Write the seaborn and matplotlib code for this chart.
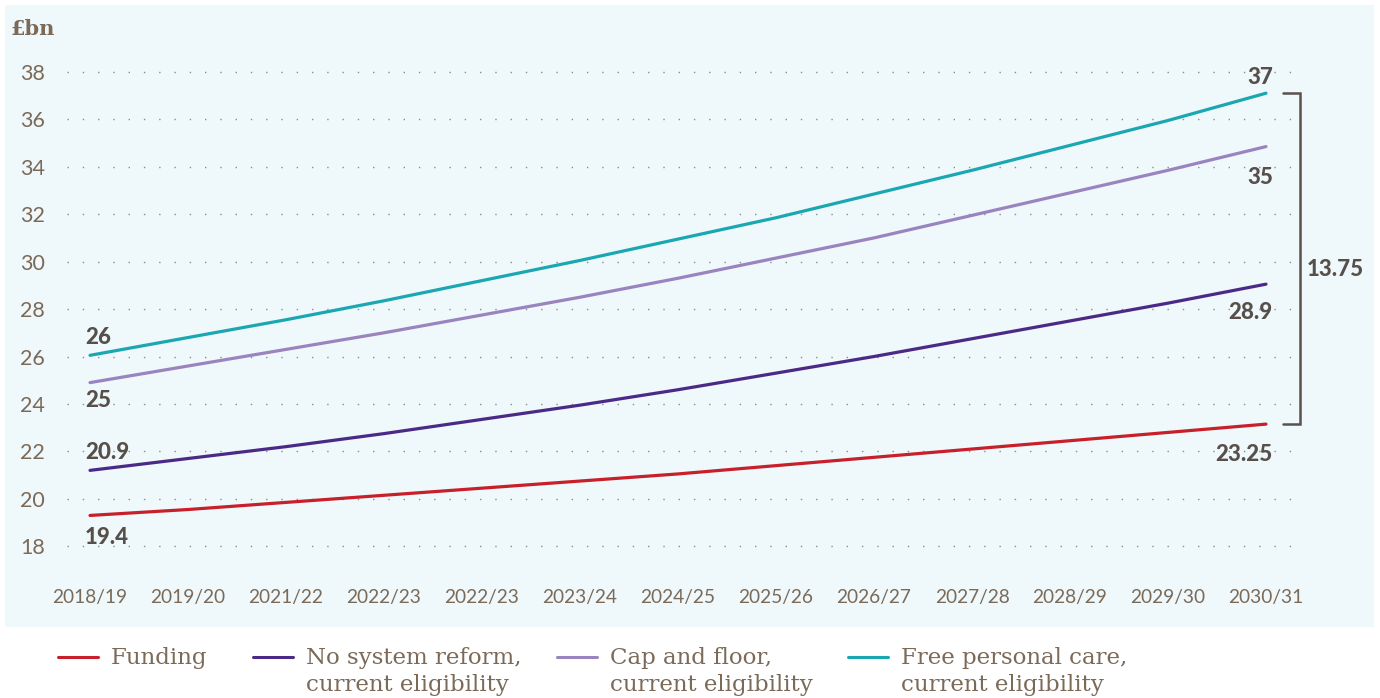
import pandas as pd
import matplotlib.pyplot as plt
import seaborn as sns
from matplotlib.patches import Rectangle

sns.set_theme(style="white")
plt.rcParams["font.family"] = ["Lato", "DejaVu Sans"]

# data
years = ["2018/19", "2019/20", "2021/22", "2022/23", "2022/23", "2023/24", "2024/25",
         "2025/26", "2026/27", "2027/28", "2028/29", "2029/30", "2030/31"]
funding = [19.3, 19.55, 19.85, 20.15, 20.45, 20.75, 21.05, 21.4, 21.75, 22.1, 22.45, 22.8, 23.15]
no_reform = [21.2, 21.7, 22.2, 22.75, 23.35, 23.95, 24.6, 25.3, 26.0, 26.75, 27.5, 28.25, 29.05]
cap_floor = [24.9, 25.6, 26.3, 27.0, 27.75, 28.5, 29.3, 30.15, 31.0, 31.95, 32.9, 33.85, 34.85]
free_care = [26.05, 26.8, 27.55, 28.35, 29.2, 30.05, 30.95, 31.85, 32.85, 33.85, 34.9, 35.95, 37.1]
series_names = ["Funding", "No system reform,\ncurrent eligibility",
                "Cap and floor,\ncurrent eligibility", "Free personal care,\ncurrent eligibility"]
start_labels = ["19.4", "20.9", "25", "26"]
end_labels = ["23.25", "28.9", "35", "37"]
gap_label = "13.75"

colors = ["#c8202a", "#4a2a86", "#9a84c0", "#1aa7b2"]
txt_brown = "#7b6a58"
lab_dark = "#574f4a"

rows = []
for name, vals in zip(series_names, [funding, no_reform, cap_floor, free_care]):
    for i, v in enumerate(vals):
        rows.append({"x": i, "value": v, "series": name})
df = pd.DataFrame(rows)

fig = plt.figure(figsize=(13.8, 6.98), dpi=100)
fig.patches.append(Rectangle((5 / 1380, 71 / 698), 1369 / 1380, 622 / 698,
                             transform=fig.transFigure, facecolor="#eff8fa",
                             edgecolor="none", zorder=-5))
ax = fig.add_axes([67 / 1380, 128 / 698, 1233 / 1380, 510 / 698])
ax.set_facecolor("none")
ax.set_zorder(2)

sns.lineplot(data=df, x="x", y="value", hue="series", palette=colors,
             linewidth=2.3, ax=ax, legend=False, zorder=3)

ax.set_xlim(-0.235, 12.347)
ax.set_ylim(17, 38.5)
ax.set_yticks(range(18, 39, 2))
ax.set_xticks(range(len(years)))
ax.set_xticklabels(years)
ax.set_xlabel("")
ax.set_ylabel("")
for s in ax.spines.values():
    s.set_visible(False)
ax.grid(True, axis="y", color="#8c8c8c", linewidth=1.0, linestyle=(0, (1, 10)))
ax.grid(False, axis="x")
ax.tick_params(axis="both", length=0, labelcolor=txt_brown, labelsize=13.8)
ax.tick_params(axis="y", pad=16, labelsize=15.5)
ax.tick_params(axis="x", pad=14)

lab_kw = dict(fontsize=16, fontweight="black", color=lab_dark)
# start labels
ax.text(-0.05, funding[0] - 0.5, start_labels[0], ha="left", va="top", **lab_kw)
ax.text(-0.05, no_reform[0] + 0.3, start_labels[1], ha="left", va="bottom", **lab_kw)
ax.text(-0.05, cap_floor[0] - 0.3, start_labels[2], ha="left", va="top", **lab_kw)
ax.text(-0.05, free_care[0] + 0.3, start_labels[3], ha="left", va="bottom", **lab_kw)
# end labels
ax.text(12.07, funding[-1] - 0.85, end_labels[0], ha="right", va="top", **lab_kw)
ax.text(12.07, no_reform[-1] - 0.75, end_labels[1], ha="right", va="top", **lab_kw)
ax.text(12.07, cap_floor[-1] - 0.85, end_labels[2], ha="right", va="top", **lab_kw)
ax.text(12.07, free_care[-1] + 0.2, end_labels[3], ha="right", va="bottom", **lab_kw)

# bracket showing the gap
bx0, bx1 = 12.17, 12.347
top, bot = free_care[-1], funding[-1]
ax.plot([bx0, bx1, bx1, bx0], [top, top, bot, bot], color="#5a514c",
        linewidth=1.8, clip_on=False, solid_joinstyle="miter")
ax.text(bx1 + 0.07, (top + bot) / 2 - 0.45, gap_label, ha="left", va="center",
        clip_on=False, **lab_kw)

fig.text(10 / 1380, 1 - 29 / 698, "£bn", ha="left", va="center", fontsize=15,
         fontweight="bold", color=txt_brown, family=["DejaVu Serif"])

# legend
legend_x = [58, 253, 557, 848]
for name, c, lx in zip(series_names, colors, legend_x):
    fig.lines.append(plt.Line2D([lx / 1380, (lx + 40) / 1380], [1 - 657 / 698] * 2,
                                transform=fig.transFigure, color=c, linewidth=2.2))
    fig.text((lx + 53) / 1380, 1 - 647 / 698, name, ha="left", va="top",
             fontsize=16.5, color=txt_brown, family=["DejaVu Serif"], linespacing=1.3)

fig.savefig("out.png", dpi=100)
